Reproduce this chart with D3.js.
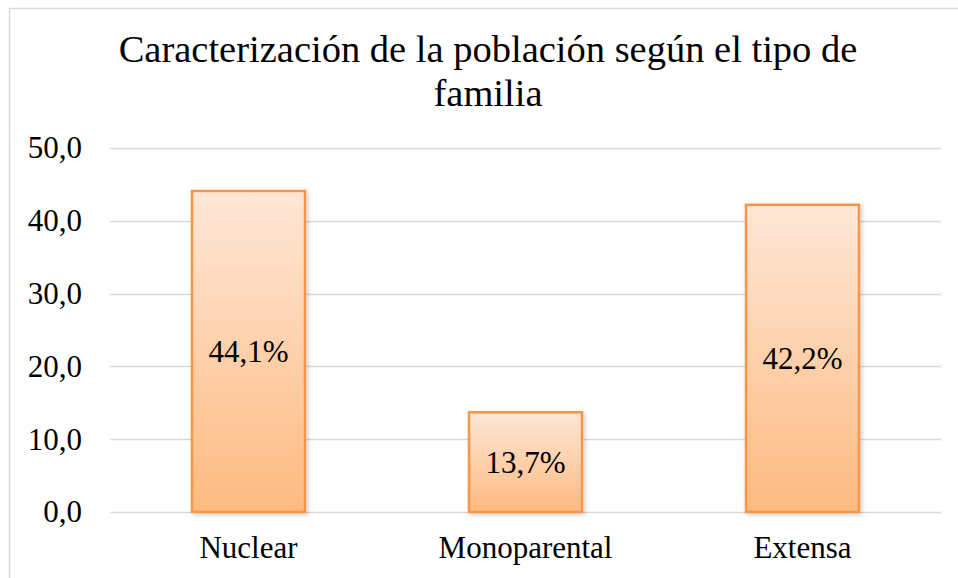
<!DOCTYPE html>
<html>
<head>
<meta charset="utf-8">
<script src="https://cdn.jsdelivr.net/npm/d3@7"></script>
</head>
<body style="margin:0;background:#fff">
<div id="graphic"></div>
<script>
var categories = ["Nuclear", "Monoparental", "Extensa"];
var values = [44.1, 13.7, 42.2];
var barLabels = ["44,1%", "13,7%", "42,2%"];
var yTicks = [0, 10, 20, 30, 40, 50];
var titleLines = ["Caracterización de la población según el tipo de", "familia"];

var W = 958, H = 578;
var FONT = "Liberation Serif";
var margin = { top: 148, left: 110, right: 17, bottom: 66 },
    width = W - margin.left - margin.right,
    height = H - margin.top - margin.bottom;

var root = d3.select("#graphic").append("svg")
  .attr("width", W).attr("height", H)
  .attr("font-family", FONT);

var defs = root.append("defs");
var grad = defs.append("linearGradient")
  .attr("id", "barGrad")
  .attr("x1", 0).attr("y1", 0).attr("x2", 0).attr("y2", 1);
grad.append("stop").attr("offset", "0%").attr("stop-color", "#FEE7D7");
grad.append("stop").attr("offset", "100%").attr("stop-color", "#FDBA80");

var shadow = defs.append("filter").attr("id", "shadow")
  .attr("x", "-10%").attr("y", "-10%").attr("width", "130%").attr("height", "130%");
shadow.append("feDropShadow")
  .attr("dx", 2).attr("dy", 2).attr("stdDeviation", 2)
  .attr("flood-color", "#000").attr("flood-opacity", 0.18);

// chart area border
root.append("rect")
  .attr("x", 9.5).attr("y", 8.5)
  .attr("width", W).attr("height", H)
  .attr("fill", "none")
  .attr("stroke", "#D9D9D9")
  .attr("stroke-width", 1.5);

/*** TITLE ***/
root.append("text")
  .attr("x", 488)
  .attr("text-anchor", "middle")
  .style("font-family", FONT)
  .style("font-size", "38.5px")
  .selectAll("tspan")
  .data(titleLines).enter().append("tspan")
  .attr("x", 488)
  .attr("y", function(d, i) { return 62 + i * 44; })
  .text(function(d) { return d; });

var svg = root.append("g")
  .attr("transform", "translate(" + margin.left + "," + margin.top + ")");

/*** SCALES ***/
var x = d3.scaleBand().domain(categories).range([0, width]).paddingInner(0.592).paddingOuter(0.296);
var y = d3.scaleLinear().domain([0, 50]).range([height, 0]);

/*** GRIDLINES ***/
svg.selectAll(".grid")
  .data(yTicks).enter().append("line")
  .attr("class", "grid")
  .attr("x1", 0).attr("x2", width)
  .attr("y1", function(d) { return Math.round(y(d)) + 0.5; })
  .attr("y2", function(d) { return Math.round(y(d)) + 0.5; })
  .attr("stroke", "#D9D9D9")
  .attr("stroke-width", 1.5);

/*** Y AXIS ***/
var yAxis = svg.append("g")
  .call(d3.axisLeft(y).tickValues(yTicks).tickSize(0).tickPadding(28)
    .tickFormat(function(d) { return d3.format(".1f")(d).replace(".", ","); }));
yAxis.select(".domain").remove();
yAxis.attr("font-family", FONT).attr("font-size", 31);
yAxis.selectAll("text")
  .style("font-family", FONT)
  .style("font-size", "31px")
  .attr("fill", "#000");

/*** X AXIS ***/
var xAxis = svg.append("g")
  .attr("transform", "translate(0," + height + ")")
  .call(d3.axisBottom(x).tickSize(0).tickPadding(24));
xAxis.select(".domain").remove();
xAxis.attr("font-family", FONT).attr("font-size", 31);
xAxis.selectAll("text")
  .style("font-family", FONT)
  .style("font-size", "31px")
  .attr("fill", "#000");

/*** BARS ***/
svg.selectAll(".bar")
  .data(values).enter().append("rect")
  .attr("class", "bar")
  .attr("x", function(d, i) { return x(categories[i]); })
  .attr("y", function(d) { return y(d); })
  .attr("width", x.bandwidth())
  .attr("height", function(d) { return height - y(d); })
  .attr("fill", "url(#barGrad)")
  .attr("stroke", "#F79646")
  .attr("stroke-width", 2.5)
  .attr("filter", "url(#shadow)");

/*** BAR LABELS ***/
svg.selectAll(".barLabel")
  .data(values).enter().append("text")
  .attr("class", "barLabel")
  .attr("x", function(d, i) { return x(categories[i]) + x.bandwidth() / 2; })
  .attr("y", function(d) { return (y(d) + height) / 2; })
  .attr("dy", "0.35em")
  .attr("text-anchor", "middle")
  .style("font-family", FONT)
  .style("font-size", "31px")
  .text(function(d, i) { return barLabels[i]; });
</script>
</body>
</html>
